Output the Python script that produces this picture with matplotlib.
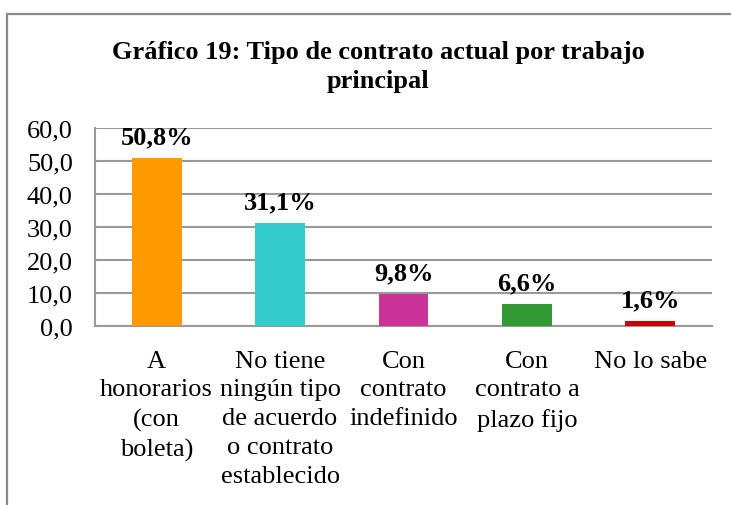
import numpy as np
import matplotlib
matplotlib.use('Agg')
import matplotlib.pyplot as plt
from matplotlib.patches import Rectangle

plt.rcParams['font.family'] = ['Liberation Serif', 'DejaVu Serif']

# datos del grafico
categorias = ['A\nhonorarios\n(con\nboleta)',
              'No tiene\nningún tipo\nde acuerdo\no contrato\nestablecido',
              'Con\ncontrato\nindefinido',
              'Con\ncontrato a\nplazo fijo',
              'No lo sabe']
valores = [50.8, 31.1, 9.8, 6.6, 1.6]
etiquetas = ['50,8%', '31,1%', '9,8%', '6,6%', '1,6%']
colores = ['#FF9900', '#33CCCC', '#CC3399', '#339933', '#CC0000']
yticks = [0, 10, 20, 30, 40, 50, 60]

fig = plt.figure(figsize=(7.31, 5.06), dpi=100)

# marco del grafico (se sale por la derecha y abajo)
fig.patches.append(Rectangle((7 / 731, -0.1), 1.2, 1 - 15 / 506 + 0.1,
                             transform=fig.transFigure, fill=False,
                             edgecolor='#888888', linewidth=1.6))

ax = fig.add_axes([95 / 731, 1 - 327 / 506, 617 / 731, 198 / 506])
x = np.arange(len(valores))
ax.bar(x, valores, width=0.405, color=colores, zorder=3)

ax.set_xlim(-0.5, len(valores) - 0.5)
ax.set_ylim(0, 60)
ax.set_yticks(yticks)
ax.set_yticklabels([f'{v:.1f}'.replace('.', ',') for v in yticks], fontsize=19)
ax.set_xticks(x)
ax.set_xticklabels(categorias, fontsize=19, linespacing=1.4)
ax.tick_params(axis='y', length=0, pad=16)
ax.tick_params(axis='x', length=0, pad=17)
ax.grid(axis='y', color='#999999', linewidth=1.5, zorder=0)

for s in ['top', 'right']:
    ax.spines[s].set_visible(False)
for s in ['left', 'bottom']:
    ax.spines[s].set_color('#999999')
    ax.spines[s].set_linewidth(1.5)

for xi, v, t in zip(x, valores, etiquetas):
    ax.annotate(t, (xi, v), xytext=(0, 7), textcoords='offset points',
                ha='center', va='bottom', fontsize=19, fontweight='bold')

fig.text(378 / 731, 1 - 67 / 506, 'Gráfico 19: Tipo de contrato actual por trabajo\nprincipal',
         ha='center', va='center', fontsize=19, fontweight='bold', linespacing=1.35)

fig.savefig('out.png', dpi=100)
